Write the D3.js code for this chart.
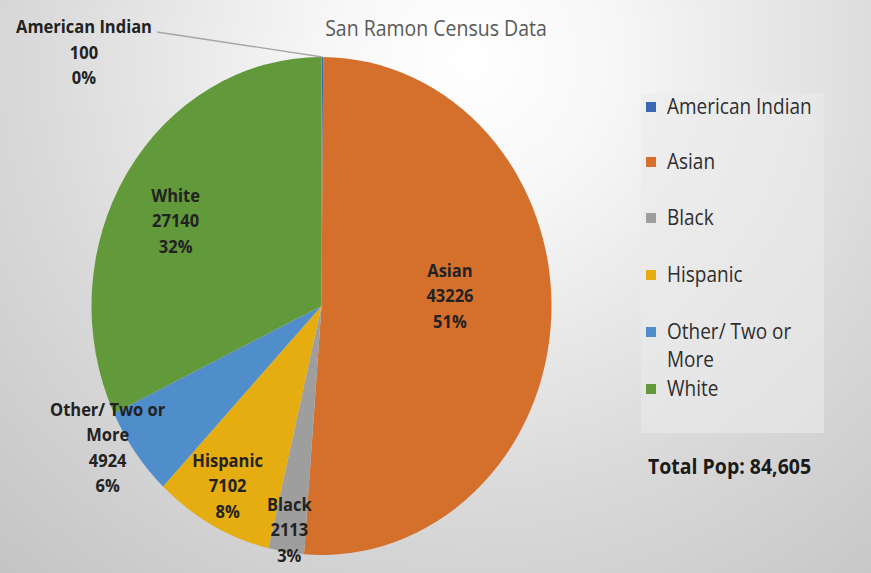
<!DOCTYPE html>
<html><head><meta charset="utf-8">
<script src="https://cdn.jsdelivr.net/npm/d3@7"></script>
<style>html,body{margin:0;padding:0;background:#fff;}svg{display:block;}</style>
</head><body><svg id="c" width="871" height="573"></svg>
<script>
const categories = ["American Indian","Asian","Black","Hispanic","Other/ Two or More","White"];
const values = [100, 43226, 2113, 7102, 4924, 27140];
const percentLabels = ["0%","51%","3%","8%","6%","32%"];
const colors = ["#3a66b3","#d5702c","#9e9e9e","#e6ad10","#4f8dcb","#62993b"];
const labelLines = [["American Indian"],["Asian"],["Black"],["Hispanic"],["Other/ Two or","More"],["White"]];
const legendLines = [["American Indian"],["Asian"],["Black"],["Hispanic"],["Other/ Two or","More"],["White"]];
const title = "San Ramon Census Data";
const totalText = "Total Pop: 84,605";
// label placement: radius fraction and angle nudge (degrees)
const labelRadius = [0, 0.56, 0.91, 0.83, 1.09, 0.72];
const labelNudge = [0, -6.5, 0, 1, 4.5, -4];

const W = 871, H = 573;
const svg = d3.select("#c");
const defs = svg.append("defs");
const rg = defs.append("radialGradient").attr("id","bg").attr("gradientUnits","userSpaceOnUse")
  .attr("cx",470).attr("cy",60).attr("r",720);
rg.append("stop").attr("offset","0").attr("stop-color","#ffffff");
rg.append("stop").attr("offset","0.2").attr("stop-color","#f7f7f7");
rg.append("stop").attr("offset","0.6").attr("stop-color","#dadada");
rg.append("stop").attr("offset","1").attr("stop-color","#c2c2c2");
svg.append("rect").attr("width",W).attr("height",H).attr("fill","url(#bg)");

// legend panel
svg.append("rect").attr("x",641).attr("y",93).attr("width",183).attr("height",340)
  .attr("fill","#ebebeb").attr("opacity",0.6);

const cx = 321.5, cy = 306, r = 230, sy = 249/230;
const pie = d3.pie().sort(null).value(d=>d);
const arcs = pie(values);
const arc = d3.arc().innerRadius(0).outerRadius(r);
const g = svg.append("g").attr("transform",`translate(${cx},${cy}) scale(1,${sy})`);
g.selectAll("path").data(arcs).join("path")
  .attr("d",arc).attr("fill",(d,i)=>colors[i]);

const font = "'Open Sans', 'DejaVu Sans', sans-serif";
const ts = 1.1; // vertical text stretch
function textBlock(x, y, lines, lh, opts) {
  const gg = svg.append("g").attr("transform",`translate(${x},${y}) scale(1,${ts})`);
  const t = gg.append("text").attr("font-family",font)
    .attr("font-weight",opts.weight||400).attr("font-size",opts.size)
    .attr("fill",opts.fill).attr("text-anchor",opts.anchor||"start");
  lines.forEach((s,k)=>t.append("tspan").attr("x",0).attr("y",k*lh/ts).attr("dy","0.35em").text(s));
}
const lh = 25.5;
const lblOpts = {weight:700, size:16.5, fill:"#222", anchor:"middle"};
arcs.forEach((a,i)=>{
  const lines = labelLines[i].concat([String(values[i]), percentLabels[i]]);
  if (i === 0) {
    const mid = (a.startAngle+a.endAngle)/2;
    const px = cx + Math.sin(mid)*r, py = cy - Math.cos(mid)*r*sy;
    svg.append("line").attr("x1",157).attr("y1",32).attr("x2",px).attr("y2",py)
      .attr("stroke","#a6a6a6").attr("stroke-width",1.3);
    textBlock(84, 27, lines, lh, lblOpts);
    return;
  }
  const mid = (a.startAngle+a.endAngle)/2 + labelNudge[i]*Math.PI/180;
  const rr = labelRadius[i]*r;
  const x = cx + Math.sin(mid)*rr, y = cy - Math.cos(mid)*rr*sy;
  textBlock(x, y - (lines.length-1)*lh/2, lines, lh, lblOpts);
});

// title
textBlock(436, 28, [title], 0, {size:19.5, fill:"#595959", anchor:"middle"});

// legend
const legY = [107,162,218,275,332,389];
categories.forEach((c,i)=>{
  svg.append("rect").attr("x",646).attr("y",legY[i]-5).attr("width",10).attr("height",10).attr("fill",colors[i]);
  textBlock(667, legY[i], legendLines[i], 28, {size:19, fill:"#2e2e2e"});
});
textBlock(648, 466, [totalText], 0, {weight:700, size:19.5, fill:"#1a1a1a"});
</script></body></html>
